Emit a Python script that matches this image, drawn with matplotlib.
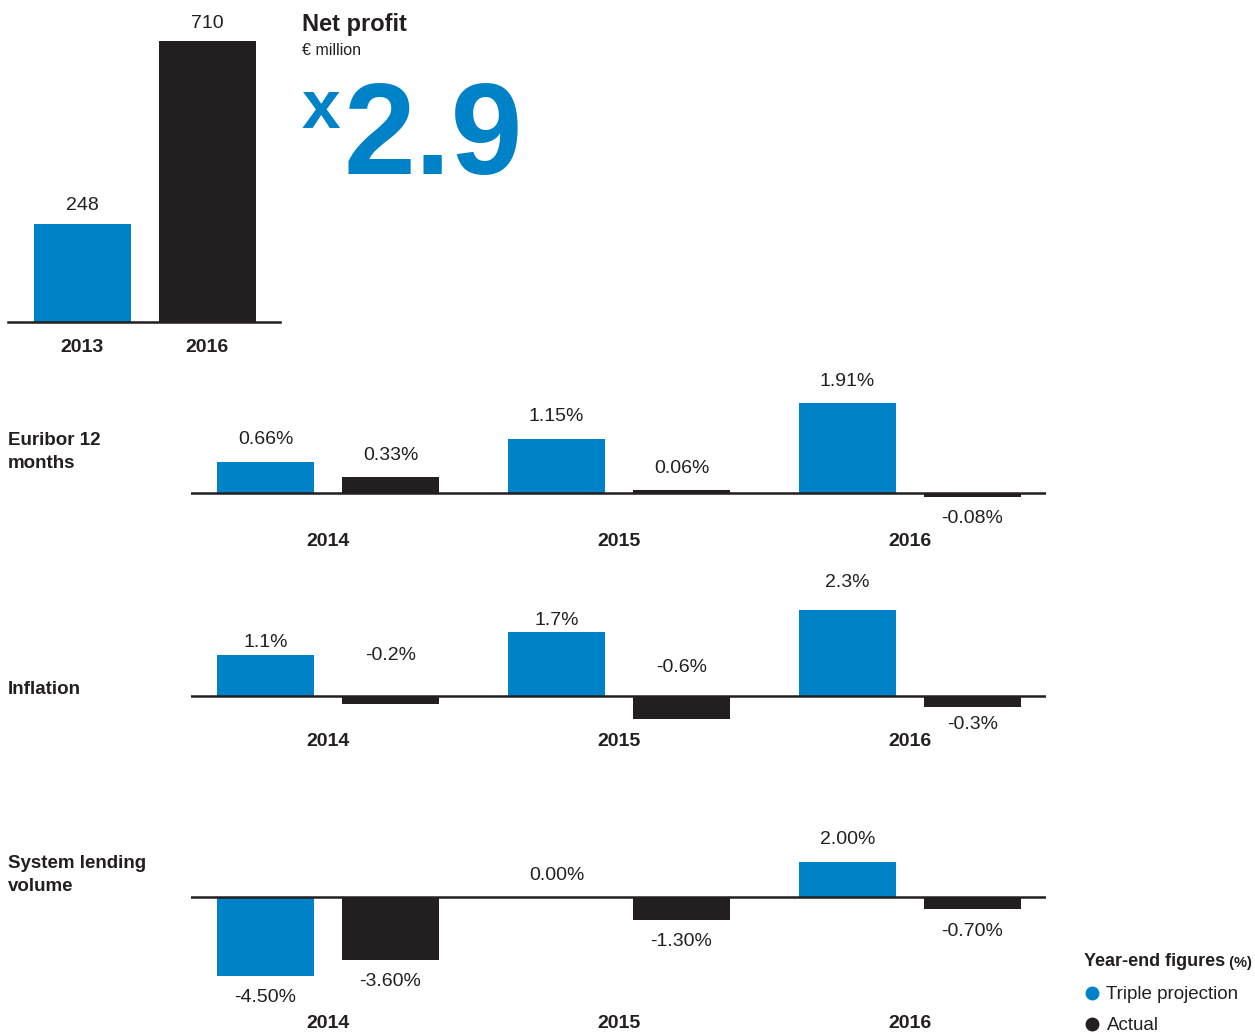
import matplotlib.pyplot as plt
from matplotlib.lines import Line2D
from matplotlib import transforms

# net profit, € million
profit_years = ['2013', '2016']
profit_values = [248, 710]

# year-end figures (%)
years = ['2014', '2015', '2016']
euribor_projection = [0.66, 1.15, 1.91]
euribor_actual = [0.33, 0.06, -0.08]
inflation_projection = [1.1, 1.7, 2.3]
inflation_actual = [-0.2, -0.6, -0.3]
lending_projection = [-4.50, 0.00, 2.00]
lending_actual = [-3.60, -1.30, -0.70]

BLUE = '#0082c8'
DARK = '#231f20'
W, H = 1255, 1035

plt.rcParams['font.family'] = ['Liberation Sans', 'DejaVu Sans']
plt.rcParams['text.color'] = DARK

fig = plt.figure(figsize=(W / 100, H / 100), dpi=100)


def fx(px):
    return px / W


def fy(py):
    return 1 - py / H


def pt(px):
    return px * 72 / 100


def panel_axes(left, right, top, bottom):
    return fig.add_axes([fx(left), fy(bottom), fx(right) - fx(left), (bottom - top) / H])


# --- net profit ---
ax0 = panel_axes(8, 280, 10, 322)
ax0.axis('off')
unit = 124.5
ax0.set_xlim((8 - 82.5) / unit, (280 - 82.5) / unit)
ax0.set_ylim(0, 312 / (281 / 710))
pos0 = list(range(len(profit_values)))
ax0.bar(pos0, profit_values, width=97 / unit, color=[BLUE, DARK], zorder=2)
ax0.axhline(0, color=DARK, lw=1.8, zorder=3, clip_on=False)
for x, v in zip(pos0, profit_values):
    ax0.annotate(str(v), (x, v), xytext=(0, pt(18)), textcoords='offset points',
                 ha='center', va='center', fontsize=14)
trans0 = transforms.blended_transform_factory(ax0.transData, fig.transFigure)
for x, y in zip(pos0, profit_years):
    ax0.text(x, fy(347), y, transform=trans0, ha='center', va='center',
             fontsize=14, fontweight='bold')

fig.text(fx(302), fy(31), 'Net profit', fontsize=17, fontweight='bold', va='baseline')
fig.text(fx(302), fy(55), '€ million', fontsize=11.5, va='baseline')
multiple = profit_values[1] / profit_values[0]
fig.text(fx(302), fy(128), 'x', fontsize=50, fontweight='bold', color=BLUE, va='baseline')
fig.text(fx(343), fy(174), f'{multiple:.1f}', fontsize=93, fontweight='bold',
         color=BLUE, va='baseline')


# --- year-end panels ---
def draw_panel(top, bottom, base, scale, proj, act, fmt, title, title_y,
               year_y, offsets=None):
    ax = panel_axes(191, 1046, top, bottom)
    ax.axis('off')
    unit = 291
    ax.set_xlim((191 - 328) / unit, (1046 - 328) / unit)
    ax.set_ylim(-(bottom - base) / scale, (base - top) / scale)
    xs = list(range(len(years)))
    shift = 62.5 / unit
    width = 97 / unit
    ax.bar([x - shift for x in xs], proj, width=width, color=BLUE, zorder=2)
    ax.bar([x + shift for x in xs], act, width=width, color=DARK, zorder=2)
    ax.axhline(0, color=DARK, lw=1.8, zorder=3)
    if offsets is None:
        offsets = [22] * (2 * len(years))
    k = 0
    for x, p, a in zip(xs, proj, act):
        for xx, v in ((x - shift, p), (x + shift, a)):
            sign = 1 if v >= 0 else -1
            ax.annotate(fmt.format(v), (xx, v), xytext=(0, sign * pt(offsets[k])),
                        textcoords='offset points', ha='center', va='center',
                        fontsize=14, annotation_clip=False)
            k += 1
    trans = transforms.blended_transform_factory(ax.transData, fig.transFigure)
    for x, y in zip(xs, years):
        ax.text(x, fy(year_y), y, transform=trans, ha='center', va='center',
                fontsize=14, fontweight='bold')
    fig.text(fx(8), fy(title_y), title, fontsize=13.5, fontweight='bold',
             va='center', linespacing=1.4)
    return ax


draw_panel(360, 560, 493, 47, euribor_projection, euribor_actual, '{:.2f}%',
           'Euribor 12\nmonths', 452, 541)
draw_panel(570, 760, 696, 37.5, inflation_projection, inflation_actual, '{:.1f}%',
           'Inflation', 689, 742, offsets=[12, -48, 12, -51, 27, 17])
draw_panel(790, 1035, 897, 17.5, lending_projection, lending_actual, '{:.2f}%',
           'System lending\nvolume', 875, 1024)

# --- legend ---
head = fig.text(fx(1084), fy(962), 'Year-end figures', fontsize=13,
                fontweight='bold', va='center')
fig.canvas.draw()
bb = head.get_window_extent()
fig.text(bb.x1 / W, fy(967), ' (%)', fontsize=10.5, fontweight='bold',
         va='baseline')

handles = [Line2D([], [], marker='o', ls='', color=BLUE, markersize=9),
           Line2D([], [], marker='o', ls='', color=DARK, markersize=9)]
fig.legend(handles, ['Triple projection', 'Actual'], loc='upper left',
           bbox_to_anchor=(fx(1084), fy(986)), frameon=False, fontsize=13.5,
           borderpad=0, borderaxespad=0, handlelength=0.8, handletextpad=0.4,
           labelspacing=0.75)

fig.savefig('out.png', dpi=100)
